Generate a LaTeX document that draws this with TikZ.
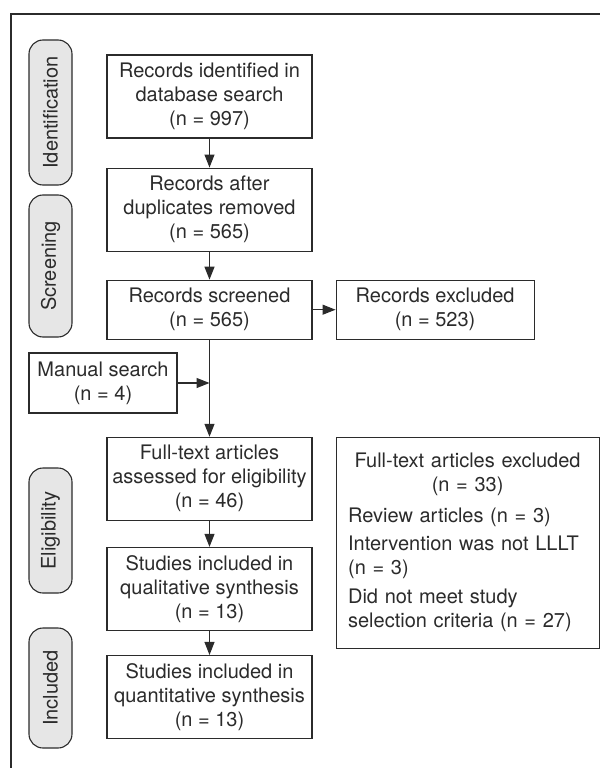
\documentclass[tikz,border=0pt]{standalone}
\usepackage{fontspec}
\setmainfont{TeX Gyre Heros}
\usepackage{xcolor}
\usepackage{tikz}
\usetikzlibrary{positioning, arrows.meta}

\definecolor{linegray}{HTML}{2B2B2B}
\definecolor{pillgray}{HTML}{E6E6E6}
\newcommand{\flowfont}{\fontsize{20}{24}\selectfont}

\begin{document}
\begin{tikzpicture}[
    x=1pt, y=-1pt,
    node distance=28pt and 23pt,
    box/.style={rectangle, draw=linegray, line width=1.1pt, minimum width=205pt, inner sep=0pt, align=center, font=\flowfont, text=linegray},
    tallbox/.style={box, minimum height=83pt},
    flatbox/.style={box, minimum height=59pt},
    exclbox/.style={box, minimum width=0pt, minimum height=211pt, text width=239pt, inner xsep=12pt, align=left},
    pill/.style={rectangle, rounded corners=14pt, draw=linegray, fill=pillgray, line width=1.1pt, minimum height=43pt, inner sep=0pt, rotate=90, font=\flowfont, text=linegray},
    arrow/.style={-{Triangle[length=13pt, width=10pt]}, line width=1.1pt, draw=linegray}
]
\useasboundingbox (0,0) rectangle (600,768);

% Frame (cut at right and bottom)
\draw[linegray, line width=1.6pt] (11,768) -- (11,14) -- (600,14);

% Stage labels
\node[pill, minimum width=145pt] (p_ident) at (50.5,112.5) {Identification};
\node[pill, minimum width=142pt] (p_screen) at (50.5,266) {Screening};
\node[pill, minimum width=125pt] (p_elig) at (50.5,530.5) {Eligibility};
\node[pill, minimum width=120pt] (p_incl) at (50.5,688) {Included};

% Main flow
\node[tallbox] (ident) at (209.5,96.5) {Records identified in\\database search\\(n = 997)};
\node[tallbox, below=29pt of ident] (dedup) {Records after\\duplicates removed\\(n = 565)};
\node[flatbox, below=of dedup] (screened) {Records screened\\(n = 565)};
\node[tallbox, below=97pt of screened] (fulltext) {Full-text articles\\assessed for eligibility\\(n = 46)};
\node[tallbox, below=26pt of fulltext] (qual) {Studies included in\\qualitative synthesis\\(n = 13)};
\node[tallbox, below=24pt of qual] (quant) {Studies included in\\quantitative synthesis\\(n = 13)};

% Side boxes
\node[flatbox, minimum width=198pt, right=of screened] (recexcl) {Records excluded\\(n = 523)};
\node[box, minimum width=148pt, minimum height=60pt] (manual) at (103,383) {Manual search\\(n = 4)};
\node[exclbox, anchor=north west] (ftexcl) at ([xshift=23pt]fulltext.north east) {%
  {\centering Full-text articles excluded\\(n = 33)\par}\vspace{7pt}%
  Review articles (n = 3)\par\vspace{4pt}%
  Intervention was not LLLT\\(n = 3)\par\vspace{5pt}%
  Did not meet study\\selection criteria (n = 27)};

\coordinate (merge) at (screened.south |- manual.east);

% Paths
\draw[arrow] (ident) -- (dedup);
\draw[arrow] (dedup) -- (screened);
\draw[arrow] (screened) -- (recexcl);
\draw[arrow] (screened) -- (fulltext);
\draw[arrow] (manual) -- (merge);
\draw[arrow] (fulltext) -- (qual);
\draw[arrow] (qual) -- (quant);

\end{tikzpicture}
\end{document}
